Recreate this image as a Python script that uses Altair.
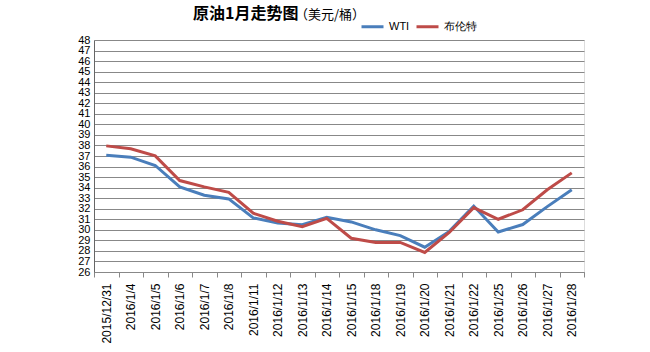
import altair as alt
import pandas as pd

dates = ["2015/12/31", "2016/1/4", "2016/1/5", "2016/1/6", "2016/1/7", "2016/1/8",
         "2016/1/11", "2016/1/12", "2016/1/13", "2016/1/14", "2016/1/15", "2016/1/18",
         "2016/1/19", "2016/1/20", "2016/1/21", "2016/1/22", "2016/1/25", "2016/1/26",
         "2016/1/27", "2016/1/28"]
wti = [37.08, 36.89, 36.10, 34.07, 33.28, 32.93, 31.13, 30.65, 30.49, 31.19,
       30.75, 30.00, 29.45, 28.35, 29.85, 32.25, 29.80, 30.50, 32.20, 33.80]
brent = [37.96, 37.68, 37.01, 34.67, 34.07, 33.56, 31.57, 30.81, 30.30, 31.09,
         29.20, 28.80, 28.80, 27.85, 29.75, 32.10, 31.00, 31.90, 33.80, 35.40]
series_names = ["WTI", "布伦特"]
series_colors = ["#4A7EBB", "#BE4B48"]
y_ticks = list(range(26, 49))

rows = []
for i, d in enumerate(dates):
    rows.append({"date": d, "series": series_names[0], "price": wti[i]})
    rows.append({"date": d, "series": series_names[1], "price": brent[i]})
df = pd.DataFrame(rows)

base = alt.Chart(df)

lines = base.mark_line(strokeWidth=3).encode(
    x=alt.X("date:N", sort=dates, bandPosition=0.5,
            scale=alt.Scale(type="band", paddingInner=0, paddingOuter=0),
            axis=alt.Axis(title=None, labelAngle=-90, labelAlign="right",
                          labelBaseline="middle", labelFont="Liberation Sans",
                          labelFontSize=12, labelColor="#000", labelPadding=6,
                          labelOverlap=False,
                          tickBand="extent", tickSize=5, tickColor="#888",
                          domainColor="#888", grid=False)),
    y=alt.Y("price:Q", scale=alt.Scale(domain=[26, 48], nice=False, zero=False),
            axis=alt.Axis(title=None, values=y_ticks, labelFont="Liberation Sans",
                          labelFontSize=11, labelColor="#000", ticks=False,
                          labelOverlap=False, labelBound=False, labelFlush=False,
                          labelPadding=4, gridColor="#888", gridWidth=1,
                          domainColor="#666")),
    color=alt.Color("series:N", sort=series_names,
                    scale=alt.Scale(domain=series_names, range=series_colors),
                    legend=alt.Legend(title=None, orient="none", direction="horizontal",
                                      legendX=266, legendY=-26, symbolType="stroke",
                                      symbolSize=484, symbolStrokeWidth=3,
                                      labelFont="Liberation Sans", labelFontSize=11,
                                      labelColor="#000", columnPadding=0,
                                      labelOffset=4)),
)

title_main = alt.Chart(pd.DataFrame({"t": ["原油1月走势图"]})).mark_text(
    font="Noto Sans CJK SC", fontSize=16, fontWeight="bold", align="left",
    baseline="middle", color="#000"
).encode(text="t:N", x=alt.value(99), y=alt.value(-26))

title_unit = alt.Chart(pd.DataFrame({"t": ["（美元/桶）"]})).mark_text(
    font="Noto Sans CJK SC", fontSize=13, align="left",
    baseline="middle", color="#000"
).encode(text="t:N", x=alt.value(201), y=alt.value(-25))

chart = alt.layer(lines, title_main, title_unit).properties(
    width=490, height=232,
    autosize=alt.AutoSizeParams(type="none"),
    padding={"left": 94, "top": 40, "right": 66, "bottom": 80},
).configure_view(stroke="#000", strokeWidth=1).configure(background="white")

chart.save("out.html", embed_options={"renderer": "svg", "actions": False})
